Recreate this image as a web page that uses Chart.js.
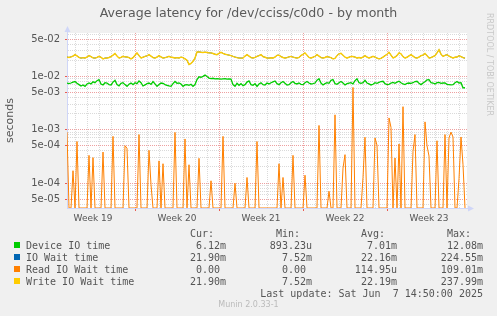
<!DOCTYPE html>
<html>
<head>
<meta charset="utf-8">
<script src="https://cdn.jsdelivr.net/npm/chart.js@4.4.0/dist/chart.umd.min.js"></script>
<style>
  html, body { margin: 0; padding: 0; background: #f0f0f0; }
  #wrap { position: relative; width: 497px; height: 316px; overflow: hidden; font-family: 'DejaVu Sans', sans-serif; color: #555; }
  #c { position: absolute; left: 0; top: 0; }
  .t { position: absolute; white-space: pre; }
  .title { left: 0; width: 497px; top: 5px; text-align: center; font-size: 12.6px; line-height: 16px; color: #5a5a5a; }
  .rrd { left: 485px; top: 13px; writing-mode: vertical-rl; font-size: 8px; line-height: 9px; color: #c8c8c8; }
  .lg { font-family: 'DejaVu Sans Mono', monospace; font-size: 10px; line-height: 12px; }
  .sw { position: absolute; width: 6px; height: 6px; }
  .munin { left: 0; width: 497px; top: 300px; text-align: center; font-size: 8px; line-height: 10px; color: #bbb; }
</style>
</head>
<body>
<div id="wrap">
  <canvas id="c" width="497" height="316"></canvas>
  <div class="t title">Average latency for /dev/cciss/c0d0 - by month</div>
  <div class="t rrd">RRDTOOL / TOBI OETIKER</div>
  <div id="legend"></div>
  <div class="t munin">Munin 2.0.33-1</div>
</div>
<script>
// time axis in days since Mon 5 May 2025 00:00, one sample every 4h
const X_MIN = 4 / 3, X_MAX = 104 / 3, X_STEP = 1 / 6;
const WEEK_LABELS = ['Week 19', 'Week 20', 'Week 21', 'Week 22', 'Week 23'];
const WEEK_MID = [3.5, 10.5, 17.5, 24.5, 31.5];

const Y_MIN = 3.4e-5, Y_MAX = 6.5e-2;
const Y_TICK_LABELS = ['5e-05', '1e-04', '5e-04', '1e-03', '5e-03', '1e-02', '5e-02'];

// values in milliseconds
const deviceMs = [
  7.5,7.3,7.5,7.8,8.0,7.4,7.0,6.6,6.9,6.5, 7.2,7.5,7.2,7.9,7.6,8.3,8.7,7.2,6.9,7.6,
  7.5,7.0,6.9,7.8,8.4,7.0,6.6,7.4,7.6,7.0, 6.5,7.1,7.5,7.0,7.6,7.3,8.2,7.6,6.6,6.9,
  7.3,7.5,7.1,8.0,7.2,6.5,7.0,7.5,7.4,7.0, 6.8,6.6,6.5,7.3,8.0,7.4,7.5,7.2,6.5,6.9,
  7.0,6.8,7.1,6.5,7.0,8.7,9.8,9.6,10.0,10.6, 9.9,9.3,9.1,9.2,9.0,9.1,9.0,8.9,9.0,9.1,
  8.9,9.0,8.9,7.0,6.5,7.4,6.8,7.3,6.7,7.0, 7.8,8.2,7.0,6.8,7.3,6.5,7.2,7.6,7.0,6.9,
  7.5,7.2,7.6,7.9,8.2,7.3,7.0,7.6,8.0,7.4, 6.9,7.0,7.6,8.0,7.4,7.2,7.5,7.1,7.0,7.6,
  8.0,7.5,7.2,7.3,7.5,8.5,9.0,7.5,6.9,7.3, 7.6,7.4,8.4,8.7,7.3,7.1,7.6,8.0,7.5,6.9,
  7.3,7.5,7.6,7.2,8.3,9.0,7.6,7.4,7.6,8.4, 7.5,7.2,6.9,7.1,7.6,7.4,7.7,8.0,8.1,7.3,
  7.0,7.1,7.5,7.7,7.4,7.8,8.1,7.6,7.2,7.0, 7.4,7.5,7.4,7.6,8.0,8.1,7.4,7.0,7.5,7.9,
  8.6,8.7,7.6,7.5,7.2,7.6,7.7,7.4,7.5,7.5, 7.1,7.0,6.9,7.0,7.6,8.0,7.5,7.6,6.1,6.12
];
const writeWaitMs = [
  23.0,22.6,23.2,24.0,25.5,24.2,22.6,22.0,22.4,22.1, 23.0,24.5,23.5,22.2,22.0,22.6,23.7,22.8,21.3,22.0,
  22.1,22.6,23.5,25.0,26.8,24.0,22.1,22.6,23.7,23.2, 23.0,22.5,21.3,22.4,24.8,27.5,24.5,22.1,22.8,23.7,
  24.2,25.5,24.0,22.5,22.1,23.0,24.4,23.1,22.1,22.4, 23.0,23.7,22.8,22.6,22.1,22.4,22.1,22.9,22.5,21.3,
  20.0,16.6,17.5,19.1,22.0,28.6,28.8,28.3,28.0,28.4, 28.0,27.6,27.5,26.8,26.0,25.5,27.0,28.2,27.0,26.0,
  25.5,25.0,24.5,23.7,23.0,22.5,22.1,22.0,22.1,24.0, 25.5,24.0,22.5,22.1,22.6,23.7,24.5,25.5,23.5,22.8,
  22.1,22.0,22.3,22.1,23.0,24.8,25.0,23.5,22.6,22.1, 22.5,23.2,23.7,23.0,22.4,22.1,22.6,24.5,26.0,27.5,
  25.0,22.6,22.1,22.8,23.8,25.5,24.0,22.5,22.1,22.6, 23.5,23.0,22.4,21.3,21.8,24.5,26.5,27.0,25.0,22.8,
  22.1,22.8,23.7,23.5,23.0,22.1,22.6,22.1,23.0,24.4, 23.0,22.1,22.8,23.7,23.0,22.0,21.3,21.8,23.0,24.4,
  26.0,28.2,25.0,22.1,23.0,24.6,27.5,26.5,23.5,22.1, 22.8,24.2,25.5,24.0,22.5,22.1,23.0,24.4,25.0,26.8,
  24.5,22.1,22.5,23.5,24.5,27.5,31.6,26.0,23.7,24.8, 25.5,24.0,23.0,22.1,22.8,23.0,24.4,23.5,22.5,21.9
];
// IO wait equals write wait here (reads are nearly always zero)
const ioWaitMs = writeWaitMs.slice();
const readWaitMs = [
  0.9,0,0,0.17,0,0.60,0,0,0,0,  0,0.33,0,0.30,0,0,0,0,0.38,0,
  0,0,0,0.75,0,0,0,0,0,0.50,  0.45,0,0,0,0,0,0.81,0,0,0,
  0,0.41,0.093,0,0,0,0.26,0,0.23,0,  0,0,0,0,0.89,0,0,0,0,0.67,
  0,0.22,0,0,0,0,0.29,0,0,0,  0,0,0.11,0,0,0,0,0,0.75,0,
  0,0,0,0,0.099,0,0,0,0,0,  0.127,0,0,0,0,0.60,0,0,0,0,
  0,0,0,0,0,0,0.23,0,0.127,0,  0,0,0,0.33,0,0,0,0,0,0.14,
  0,0,0,0,0,0,1.2,0,0,0,  0,0.07,0,0,1.9,0,0,0,0.19,0.34,
  0,0,0,6.2,0,0,0,0,0.127,0.72,  0,0,0,0,0.70,0.51,0,0,0,0,
  0,1.66,1.1,0,0.295,0,0.54,0,2.7,0,  0,0,0,0.39,0.81,0,0,0,0,1.4,
  0.5,0.32,0,0,0,0.62,0,0,0,0.81,  0,0.70,0.90,0.73,0,0,0.12,0.73,0.22,0
];

const seriesNames = ['Device IO time', 'IO Wait time', 'Read IO Wait time', 'Write IO Wait time'];
const seriesColors = ['#00CC00', '#0066B3', '#FF8000', '#FFCC00'];
const curVals = ['6.12m', '21.90m', '0.00 ', '21.90m'];
const minVals = ['893.23u', '7.52m', '0.00 ', '7.52m'];
const avgVals = ['7.01m', '22.16m', '114.95u', '22.19m'];
const maxVals = ['12.08m', '224.55m', '109.01m', '237.99m'];
const lastUpdate = 'Last update: Sat Jun  7 14:50:00 2025';

const RED = '#EEA0A0', GRAY = '#DADADA', AXIS = '#CFD6F8';

function pts(arr) {
  // zero read time has no place on a log axis; munin pins it to the bottom
  return arr.map((v, i) => ({ x: X_MIN + i * X_STEP, y: v > 0 ? v / 1000 : Y_MIN }));
}
function mant(v) {
  const e = Math.floor(Math.log10(v) + 1e-9);
  return Math.round(v / Math.pow(10, e));
}
function near(a, b) { return Math.abs(a - b) < 1e-6; }

const decor = {
  id: 'decor',
  beforeDraw(c) {
    const a = c.chartArea, g = c.ctx;
    g.save();
    g.fillStyle = '#ffffff';
    g.fillRect(a.left, a.top, a.right - a.left, a.bottom - a.top);
    g.restore();
  },
  afterDraw(c) {
    const a = c.chartArea, g = c.ctx;
    g.save();
    g.strokeStyle = AXIS; g.fillStyle = AXIS; g.lineWidth = 1;
    g.beginPath();
    g.moveTo(a.left + 0.5, a.top); g.lineTo(a.left + 0.5, a.top - 3);
    g.moveTo(a.right, a.bottom + 0.5); g.lineTo(a.right + 3, a.bottom + 0.5);
    g.stroke();
    g.beginPath();
    g.moveTo(a.left + 0.5, a.top - 7); g.lineTo(a.left - 2.5, a.top - 1); g.lineTo(a.left + 3.5, a.top - 1);
    g.closePath(); g.fill();
    g.beginPath();
    g.moveTo(a.right + 7, a.bottom + 0.5); g.lineTo(a.right + 1, a.bottom - 2.5); g.lineTo(a.right + 1, a.bottom + 3.5);
    g.closePath(); g.fill();
    g.restore();
  }
};

const line = (label, data, color, order, w) => ({
  label, data: pts(data), borderColor: color, backgroundColor: color,
  borderWidth: w, pointRadius: 0, tension: 0, fill: false, order
});

new Chart(document.getElementById('c'), {
  type: 'line',
  data: {
    datasets: [
      line(seriesNames[0], deviceMs, seriesColors[0], 4, 1.3),
      line(seriesNames[1], ioWaitMs, seriesColors[1], 3, 1),
      line(seriesNames[2], readWaitMs, seriesColors[2], 2, 1),
      line(seriesNames[3], writeWaitMs, seriesColors[3], 1, 1.4)
    ]
  },
  options: {
    responsive: false,
    animation: false,
    layout: { padding: { top: 33, right: 30, left: 0, bottom: 0 } },
    plugins: { legend: { display: false }, tooltip: { enabled: false } },
    scales: {
      x: {
        type: 'linear', min: X_MIN, max: X_MAX,
        afterFit(s) { s.height = 108; },
        afterBuildTicks(s) {
          const t = [];
          for (let v = Math.ceil(X_MIN * 2) / 2; v <= X_MAX; v += 0.5) t.push({ value: v });
          s.ticks = t;
        },
        grid: {
          color(ctx) {
            const v = ctx.tick ? ctx.tick.value : 0;
            if (!near(v, Math.round(v))) return 'rgba(0,0,0,0)';
            return Math.round(v) % 7 === 0 ? RED : GRAY;
          },
          tickColor(ctx) {
            const v = ctx.tick ? ctx.tick.value : 0;
            return near(v, Math.round(v)) && Math.round(v) % 7 === 0 ? '#E95A51' : 'rgba(0,0,0,0)';
          },
          tickLength: 3, lineWidth: 1
        },
        border: { color: AXIS, dash: [1, 1] },
        ticks: {
          autoSkip: false, maxRotation: 0, padding: 2, color: '#555',
          font: { family: 'DejaVu Sans', size: 9 },
          callback(v) {
            const i = WEEK_MID.findIndex(m => near(m, v));
            return i >= 0 ? WEEK_LABELS[i] : '';
          }
        }
      },
      y: {
        type: 'logarithmic', min: Y_MIN, max: Y_MAX,
        afterFit(s) { s.width = 67; },
        afterBuildTicks(s) {
          const t = [];
          for (let e = -6; e <= 0; e++) for (let m = 1; m <= 9; m++) {
            const v = parseFloat(m + 'e' + e);
            if (v >= Y_MIN && v <= Y_MAX) t.push({ value: v });
          }
          s.ticks = t;
        },
        grid: {
          color(ctx) {
            if (!ctx.tick) return GRAY;
            const m = mant(ctx.tick.value);
            return m === 1 || m === 5 ? RED : GRAY;
          },
          tickColor(ctx) {
            if (!ctx.tick) return 'rgba(0,0,0,0)';
            const m = mant(ctx.tick.value);
            return m === 1 || m === 5 ? '#E95A51' : 'rgba(0,0,0,0)';
          },
          tickLength: 2, lineWidth: 1
        },
        border: { color: AXIS, dash: [1, 1] },
        title: { display: true, text: 'seconds', color: '#555', font: { family: 'DejaVu Sans', size: 11 }, padding: { top: 4, bottom: 0 } },
        ticks: {
          autoSkip: false, padding: 5, color: '#555',
          font: { family: 'DejaVu Sans', size: 10 },
          callback(v) {
            const lbl = Y_TICK_LABELS.find(l => Math.abs(parseFloat(l) - v) / v < 1e-6);
            return lbl || '';
          }
        }
      }
    }
  },
  plugins: [decor]
});

// munin style legend
const lg = document.getElementById('legend');
function txt(s, top, opts) {
  const d = document.createElement('div');
  d.className = 't lg';
  d.textContent = s;
  d.style.top = top + 'px';
  if (opts.left !== undefined) d.style.left = opts.left + 'px';
  if (opts.right !== undefined) d.style.right = (497 - opts.right) + 'px';
  lg.appendChild(d);
}
const colRight = [226, 312, 397, 483];
['Cur:', 'Min:', 'Avg:', 'Max:'].forEach((h, k) => txt(h, 227.5, { right: colRight[k] - 12 }));
seriesNames.forEach((n, r) => {
  const top = 239.5 + r * 12;
  const sw = document.createElement('div');
  sw.className = 'sw';
  sw.style.left = '14px'; sw.style.top = (top + 2.5) + 'px'; sw.style.background = seriesColors[r];
  lg.appendChild(sw);
  txt(n, top, { left: 26 });
  [curVals, minVals, avgVals, maxVals].forEach((col, k) => txt(col[r], top, { right: colRight[k] }));
});
txt(lastUpdate, 287.5, { right: 483 });
</script>
</body>
</html>
